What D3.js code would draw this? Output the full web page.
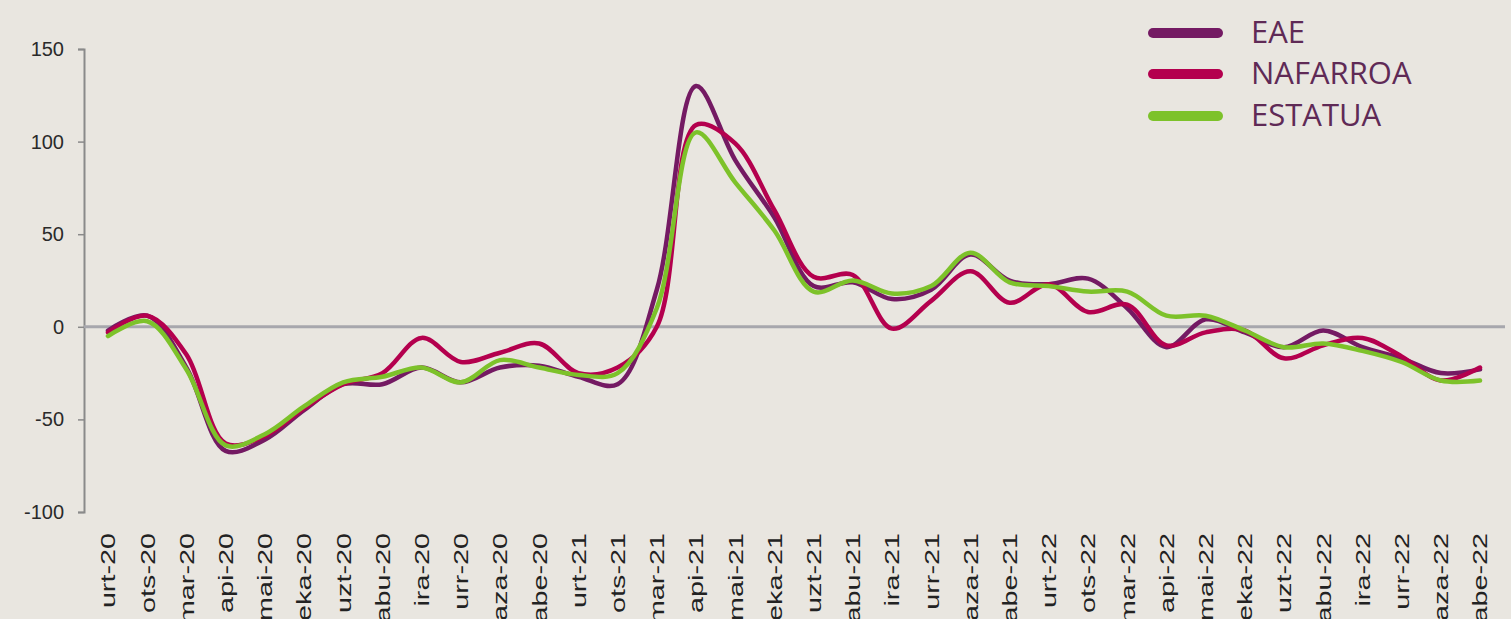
<!DOCTYPE html>
<html>
<head>
<meta charset="utf-8">
<script src="https://cdn.jsdelivr.net/npm/d3@7"></script>
<style>
  html, body { margin: 0; padding: 0; background: #e9e6e0; }
  svg { display: block; }
</style>
</head>
<body>
<div id="chart"></div>
<script>
const months = ['urt-20', 'ots-20', 'mar-20', 'api-20', 'mai-20', 'eka-20', 'uzt-20', 'abu-20', 'ira-20', 'urr-20', 'aza-20', 'abe-20',
  'urt-21', 'ots-21', 'mar-21', 'api-21', 'mai-21', 'eka-21', 'uzt-21', 'abu-21', 'ira-21', 'urr-21', 'aza-21', 'abe-21',
  'urt-22', 'ots-22', 'mar-22', 'api-22', 'mai-22', 'eka-22', 'uzt-22', 'abu-22', 'ira-22', 'urr-22', 'aza-22', 'abe-22']

const eae = [-2, 6, -22, -67, -61, -45, -31, -31, -22, -30, -22, -21,
  -27, -31, 20, 130, 90, 59, 22, 24, 15, 20, 39, 25,
  23, 26, 10, -11, 4, -3, -11, -2, -11, -17, -25, -23]
const nafarroa = [-3, 6, -15, -63, -59, -44, -31, -25, -6, -19, -14, -9,
  -25, -22, 0, 109, 99, 63, 27, 28, -1, 14, 30, 13,
  23, 8, 12, -10, -3, -2, -17, -10, -6, -16, -29, -22]
const estatua = [-5, 3, -23, -64, -58, -43, -30, -27, -22, -30, -18, -22,
  -26, -25, 10, 105, 78, 52, 19, 25, 18, 22, 40, 24,
  22, 19, 19, 6, 6, -2, -11, -9, -13, -19, -29, -29]

const seriesNames = ['EAE', 'NAFARROA', 'ESTATUA']
const seriesColors = ['#741a63', '#b4004e', '#7dc22a']
const yTicks = [-100, -50, 0, 50, 100, 150]

const width = 1511
const height = 619

const svg = d3.select('#chart').append('svg')
  .attr('width', width)
  .attr('height', height)

svg.append('rect')
  .attr('width', width)
  .attr('height', height)
  .attr('fill', '#e9e6e0')

const x = d3.scalePoint()
  .domain(months)
  .range([108, 1480])

const y = d3.scaleLinear()
  .domain([-100, 150])
  .range([512, 49])

// y axis
const yAxis = svg.append('g')
  .attr('transform', 'translate(84,0)')
  .call(d3.axisLeft(y).tickValues(yTicks).tickSize(6).tickPadding(14).tickFormat(d => String(d)))

yAxis.select('.domain').attr('stroke', '#8a8a8a').attr('stroke-width', 2)
yAxis.selectAll('.tick line').attr('stroke', '#8a8a8a').attr('stroke-width', 1.5)
yAxis.selectAll('.tick text')
  .attr('fill', '#2a2a2a')
  .style('font', '20px Arial, "Liberation Sans", Helvetica, sans-serif')

// zero line
svg.append('line')
  .attr('x1', 84)
  .attr('x2', 1505)
  .attr('y1', y(0))
  .attr('y2', y(0))
  .attr('stroke', '#a7a7ad')
  .attr('stroke-width', 3)

// x labels (stretched along the text, as in the original)
svg.append('g')
  .selectAll('text')
  .data(months)
  .join('text')
  .attr('transform', d => `translate(${x(d)},533) rotate(-90) scale(1.37,1)`)
  .attr('text-anchor', 'end')
  .attr('dy', '0.35em')
  .attr('fill', '#222')
  .style('font', '21px Arial, "Liberation Sans", Helvetica, sans-serif')
  .text(d => d)

// lines
const line = d3.line()
  .x((d, i) => x(months[i]))
  .y(d => y(d))
  .curve(d3.curveCatmullRom.alpha(0.5))

const allSeries = [eae, nafarroa, estatua]

svg.append('g')
  .selectAll('path')
  .data(allSeries)
  .join('path')
  .attr('d', d => line(d))
  .attr('fill', 'none')
  .attr('stroke', (d, i) => seriesColors[i])
  .attr('stroke-width', 4.5)
  .attr('stroke-linejoin', 'round')
  .attr('stroke-linecap', 'round')

// legend
const legendY = [33, 74, 116]
const legend = svg.append('g')
  .selectAll('g')
  .data(seriesNames)
  .join('g')
  .attr('transform', (d, i) => `translate(0,${legendY[i]})`)

legend.append('line')
  .attr('x1', 1153)
  .attr('x2', 1218)
  .attr('stroke', (d, i) => seriesColors[i])
  .attr('stroke-width', 10)
  .attr('stroke-linecap', 'round')

legend.append('text')
  .attr('x', 1251)
  .attr('y', 10)
  .attr('fill', '#5f2a56')
  .style('font', '31px "Open Sans", sans-serif')
  .text(d => d)
</script>
</body>
</html>
